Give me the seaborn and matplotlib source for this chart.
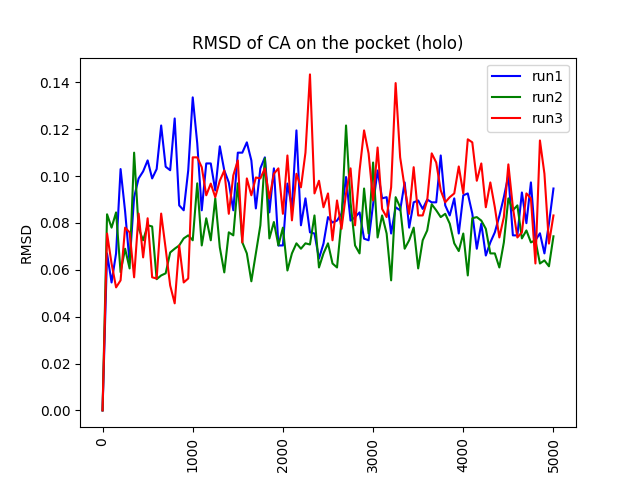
import numpy as np
import pandas as pd
import matplotlib
matplotlib.use("Agg")
import matplotlib.pyplot as plt
import seaborn as sns

# frame index (every 50 steps)
frames = list(range(0, 5001, 50))

run1 = [0.0, 0.067, 0.0546, 0.067, 0.103, 0.085, 0.063, 0.091, 0.099, 0.102,
        0.1067, 0.099, 0.103, 0.1216, 0.104, 0.1025, 0.1246, 0.0875, 0.0854, 0.1024,
        0.1336, 0.114, 0.0854, 0.1054, 0.1054, 0.0939, 0.1127, 0.1024, 0.0973, 0.0854,
        0.110, 0.110, 0.1144, 0.1067, 0.0862, 0.1033, 0.108, 0.0845, 0.1033, 0.0704,
        0.0704, 0.0968, 0.0867, 0.1195, 0.079, 0.0905, 0.076, 0.0755, 0.0648, 0.0712,
        0.0825, 0.0802, 0.081, 0.084, 0.0996, 0.081, 0.0825, 0.0845, 0.0733, 0.0726,
        0.088, 0.1024, 0.0905, 0.091, 0.0755, 0.0867, 0.0854, 0.0973, 0.078, 0.0888,
        0.0896, 0.086, 0.090, 0.0888, 0.0888, 0.1088, 0.0875, 0.0832, 0.0905, 0.0755,
        0.0918, 0.0926, 0.084, 0.069, 0.0797, 0.0661, 0.0717, 0.076, 0.083, 0.091,
        0.1003, 0.0747, 0.0747, 0.093, 0.0799, 0.0973, 0.0726, 0.0756, 0.067, 0.0797,
        0.0947]

run2 = [0.0, 0.0837, 0.078, 0.0845, 0.059, 0.069, 0.0606, 0.110, 0.0777, 0.0726,
        0.079, 0.0785, 0.056, 0.0576, 0.0585, 0.0674, 0.069, 0.0704, 0.0734, 0.0747,
        0.0726, 0.0969, 0.0704, 0.082, 0.0726, 0.0905, 0.0696, 0.0589, 0.076, 0.0747,
        0.0969, 0.0717, 0.067, 0.0551, 0.067, 0.079, 0.1076, 0.0734, 0.0804, 0.0704,
        0.078, 0.0597, 0.067, 0.0713, 0.069, 0.0713, 0.0708, 0.0832, 0.061, 0.067,
        0.0713, 0.0627, 0.061, 0.081, 0.1216, 0.0888, 0.0704, 0.067, 0.0947, 0.0755,
        0.1058, 0.0738, 0.0832, 0.0755, 0.0555, 0.091, 0.0867, 0.069, 0.0726, 0.078,
        0.0606, 0.0726, 0.0768, 0.088, 0.0854, 0.0825, 0.0839, 0.0797, 0.0713, 0.068,
        0.0755, 0.0576, 0.082, 0.0825, 0.081, 0.0775, 0.067, 0.067, 0.061, 0.0717,
        0.0905, 0.0854, 0.0875, 0.0734, 0.0768, 0.0717, 0.0726, 0.0627, 0.064, 0.0615,
        0.0743]

run3 = [0.0, 0.0755, 0.0627, 0.0525, 0.0555, 0.078, 0.076, 0.0568, 0.084, 0.0653,
        0.082, 0.0568, 0.0563, 0.084, 0.069, 0.0533, 0.0457, 0.0704, 0.0546, 0.0563,
        0.108, 0.108, 0.1038, 0.0918, 0.0968, 0.091, 0.098, 0.1024, 0.0839, 0.1003,
        0.1067, 0.0717, 0.099, 0.0918, 0.0994, 0.099, 0.1033, 0.0905, 0.101, 0.1033,
        0.0839, 0.1088, 0.0811, 0.101, 0.0952, 0.110, 0.1434, 0.0926, 0.098, 0.0867,
        0.0926, 0.0726, 0.0896, 0.0775, 0.0926, 0.1033, 0.079, 0.1024, 0.1195, 0.1097,
        0.0896, 0.1122, 0.086, 0.0825, 0.0952, 0.1397, 0.108, 0.0952, 0.0839, 0.1038,
        0.0832, 0.0832, 0.0896, 0.1097, 0.1058, 0.0939, 0.0888, 0.091, 0.0926, 0.1041,
        0.0926, 0.1157, 0.1144, 0.098, 0.1054, 0.0867, 0.0973, 0.0867, 0.0738, 0.0825,
        0.105, 0.0867, 0.0738, 0.076, 0.0926, 0.0905, 0.0627, 0.1152, 0.101, 0.0712,
        0.0832]

runs = {'run1': run1, 'run2': run2, 'run3': run3}
colors = {'run1': 'blue', 'run2': 'green', 'run3': 'red'}

fig, ax = plt.subplots(figsize=(6.4, 4.8), dpi=100)
for name, vals in runs.items():
    sns.lineplot(x=frames, y=vals, ax=ax, color=colors[name], label=name, linewidth=1.5)

ax.set_title('RMSD of CA on the pocket (holo)')
ax.set_ylabel('RMSD')
ax.set_xlabel('')
plt.xticks(rotation=90)
ax.legend(loc='upper right')

plt.savefig('out.png', dpi=100)
